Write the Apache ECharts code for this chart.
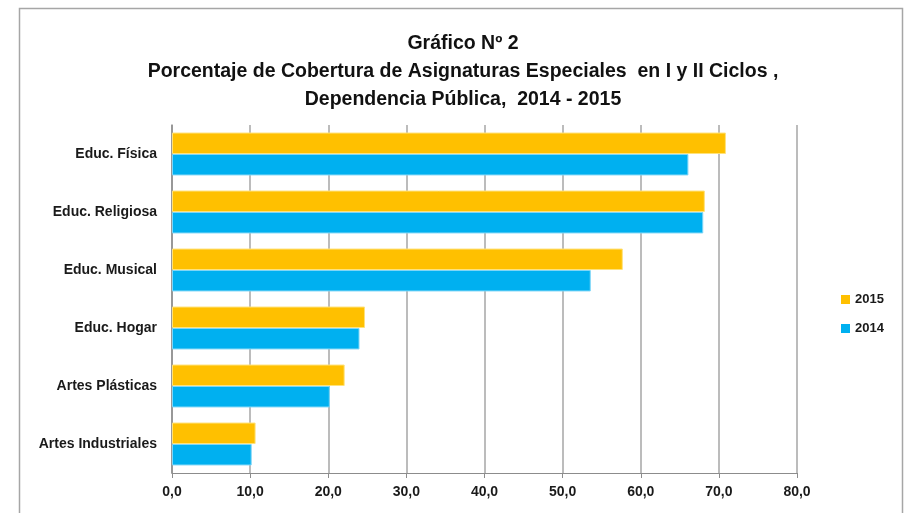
<!DOCTYPE html>
<html>
<head>
<meta charset="utf-8">
<script src="https://cdn.jsdelivr.net/npm/echarts@6/dist/echarts.min.js"></script>
<style>
  html, body { margin: 0; padding: 0; background: #fff; }
  #container { width: 909px; height: 513px; }
</style>
</head>
<body>
<div id="container"></div>
<script>
// asignaturas, de arriba hacia abajo
var categories = ['Educ. Física', 'Educ. Religiosa', 'Educ. Musical', 'Educ. Hogar', 'Artes Plásticas', 'Artes Industriales'];
var values2015 = [70.9, 68.2, 57.7, 24.7, 22.1, 10.7];
var values2014 = [66.1, 68.0, 53.6, 24.0, 20.2, 10.2];
var xTicks = [0, 10, 20, 30, 40, 50, 60, 70, 80];

var font = "'Liberation Sans', Arial, sans-serif";

var myChart = echarts.init(document.getElementById('container'));
var option = {
    animation: false,
    textStyle: { fontFamily: font },
    title: {
        text: 'Gráfico Nº 2\nPorcentaje de Cobertura de Asignaturas Especiales  en I y II Ciclos ,\nDependencia Pública,  2014 - 2015',
        left: 458,
        textAlign: 'center',
        top: 25,
        textStyle: {
            fontFamily: font,
            fontSize: 19.5,
            fontWeight: 'bold',
            color: '#111',
            lineHeight: 28
        }
    },
    graphic: [{
        type: 'rect',
        shape: { x: 19.5, y: 8.5, width: 883, height: 520 },
        style: { fill: null, stroke: '#a6a6a6', lineWidth: 1.5 }
    }],
    legend: {
        orient: 'vertical',
        left: 836,
        top: 288,
        itemWidth: 9,
        itemHeight: 9,
        itemGap: 16,
        icon: 'rect',
        itemStyle: { borderWidth: 0 },
        data: ['2015', '2014'],
        textStyle: { fontFamily: font, fontSize: 13, fontWeight: 'bold', color: '#1a1a1a' }
    },
    grid: {
        left: 172,
        top: 125,
        width: 625,
        height: 348
    },
    xAxis: {
        type: 'value',
        min: 0,
        max: 80,
        interval: 10,
        axisLine: { show: true, lineStyle: { color: '#8c8c8c' } },
        axisTick: { show: true, length: 5, lineStyle: { color: '#8c8c8c' } },
        splitLine: { show: true, lineStyle: { color: '#a6a6a6', width: 1.5 } },
        axisLabel: {
            margin: 12,
            fontFamily: font,
            fontSize: 14,
            fontWeight: 'bold',
            color: '#1a1a1a',
            formatter: function (v) {
                return xTicks.indexOf(v) >= 0 ? v.toFixed(1).replace('.', ',') : '';
            }
        }
    },
    yAxis: {
        type: 'category',
        inverse: true,
        data: categories,
        axisLine: { show: true, lineStyle: { color: '#8c8c8c', width: 1.5 } },
        axisTick: { show: false },
        axisLabel: {
            margin: 15,
            fontFamily: font,
            fontSize: 14,
            fontWeight: 'bold',
            color: '#1a1a1a'
        }
    },
    series: [
        {
            name: '2015',
            type: 'bar',
            data: values2015,
            barGap: '0%',
            barCategoryGap: '26%',
            itemStyle: { color: '#FFC000', borderColor: '#ffe27a', borderWidth: 1 }
        },
        {
            name: '2014',
            type: 'bar',
            data: values2014,
            barGap: '0%',
            barCategoryGap: '26%',
            itemStyle: { color: '#00B0F0', borderColor: '#7fd6f7', borderWidth: 1 }
        }
    ]
};
myChart.setOption(option);
</script>
</body>
</html>
